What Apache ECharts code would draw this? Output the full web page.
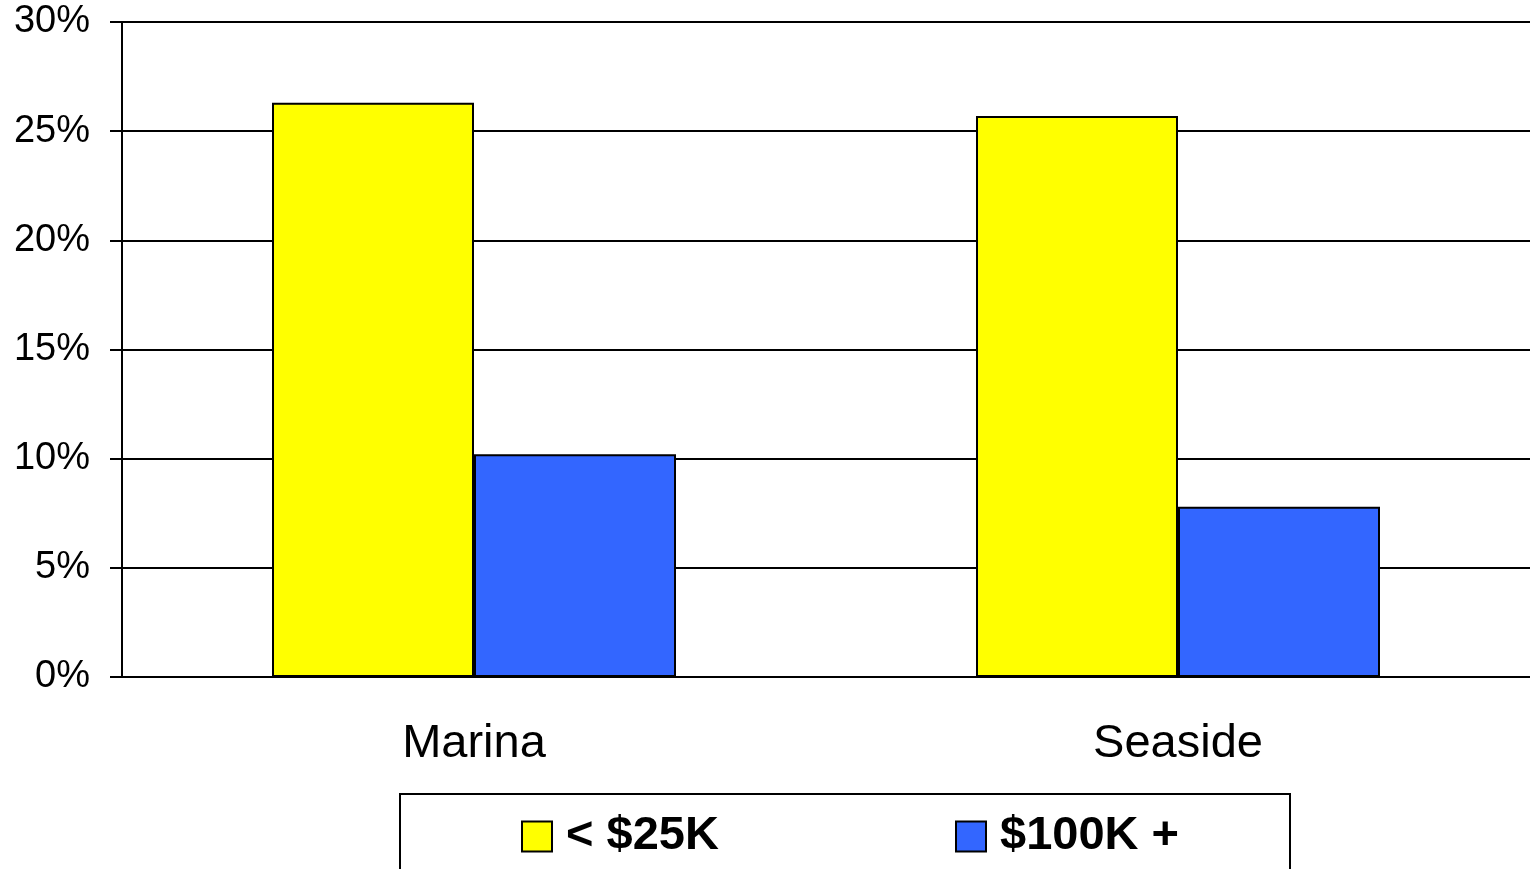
<!DOCTYPE html>
<html>
<head>
<meta charset="utf-8">
<script src="https://cdn.jsdelivr.net/npm/echarts@6/dist/echarts.min.js"></script>
<style>
  html, body { margin: 0; padding: 0; background: #fff; }
  #chart { width: 1530px; height: 869px; }
</style>
</head>
<body>
<div id="chart"></div>
<script>
// data
const categories = ['Marina', 'Seaside'];
const lowIncome = [26.3, 25.7];   // < $25K
const highIncome = [10.2, 7.8];   // $100K +
const seriesNames = ['< $25K', '$100K +'];

const font = 'Liberation Sans, Arial, sans-serif';
const chart = echarts.init(document.getElementById('chart'));

const legendText = {
    fontFamily: font,
    fontSize: 47,
    fontWeight: 'bold',
    color: '#000',
    padding: [0, 0, 0, 9]
};

chart.setOption({
    animation: false,
    backgroundColor: '#fff',
    grid: { left: 122, top: 22, width: 1412, height: 655 },
    graphic: [{
        type: 'rect',
        shape: { x: 400, y: 794, width: 890, height: 120 },
        style: { fill: 'none', stroke: '#000', lineWidth: 2 }
    }],
    legend: [
        {
            data: [seriesNames[0]],
            left: 516, top: 808,
            icon: 'rect',
            itemWidth: 30, itemHeight: 30,
            itemStyle: { borderColor: '#000', borderWidth: 2 },
            textStyle: legendText
        },
        {
            data: [seriesNames[1]],
            left: 950, top: 808,
            icon: 'rect',
            itemWidth: 30, itemHeight: 30,
            itemStyle: { borderColor: '#000', borderWidth: 2 },
            textStyle: legendText
        }
    ],
    xAxis: {
        type: 'category',
        data: categories,
        axisLine: { lineStyle: { color: '#000', width: 2 } },
        axisTick: { length: 12, lineStyle: { color: '#000', width: 2 } },
        axisLabel: { fontFamily: font, fontSize: 47, color: '#000', margin: 44 }
    },
    yAxis: {
        type: 'value',
        min: 0, max: 30, interval: 5,
        axisLine: { show: true, lineStyle: { color: '#000', width: 2 } },
        axisTick: { show: true, length: 12, lineStyle: { color: '#000', width: 2 } },
        axisLabel: { formatter: '{value}%', fontFamily: font, fontSize: 38, color: '#000', margin: 32 },
        splitLine: { show: true, lineStyle: { color: '#000', width: 2 } }
    },
    series: [
        {
            name: seriesNames[0],
            type: 'bar',
            data: lowIncome,
            barWidth: 202,
            barGap: '0%',
            itemStyle: { color: '#ffff00', borderColor: '#000', borderWidth: 2 }
        },
        {
            name: seriesNames[1],
            type: 'bar',
            data: highIncome,
            barWidth: 202,
            itemStyle: { color: '#3366ff', borderColor: '#000', borderWidth: 2 }
        }
    ]
});
</script>
</body>
</html>
